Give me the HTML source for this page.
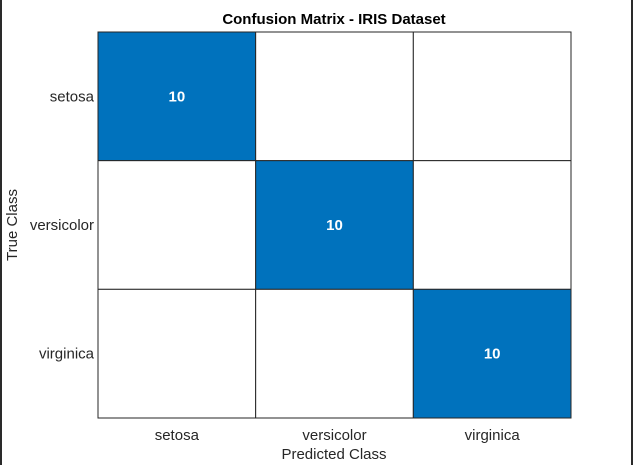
<!DOCTYPE html>
<html><head><meta charset="utf-8"><style>
html,body{margin:0;padding:0;background:#fff;}
body{width:633px;height:465px;overflow:hidden;position:relative;}
svg{position:absolute;left:0;top:0;font-family:"Liberation Sans",Arial,sans-serif;}
</style></head><body>
<svg id="chart" width="633" height="465" viewBox="0 0 633 465">
<rect x="0" y="0" width="2" height="465" fill="#2a2a2a"/>
<rect x="631" y="0" width="2" height="465" fill="#2a2a2a"/>
<text x="334" y="24" text-anchor="middle" font-size="15" font-weight="bold" fill="#000">Confusion Matrix - IRIS Dataset</text>
<g id="cells"></g>
<text x="334" y="459" text-anchor="middle" font-size="15" fill="#262626">Predicted Class</text>
<text transform="translate(17,225) rotate(-90)" text-anchor="middle" font-size="15" fill="#262626">True Class</text>
</svg>
<script>
const classes = ["setosa","versicolor","virginica"];
const row0 = [10,0,0];
const row1 = [0,10,0];
const row2 = [0,0,10];
const matrix = [row0,row1,row2];
const L=98,R=571,T=32,B=418;
const ns="http://www.w3.org/2000/svg";
const g=document.getElementById('cells');
const svg=document.getElementById('chart');
const n=classes.length, cw=(R-L)/n, ch=(B-T)/n;
function xs(i){return L+i*cw;}
function ys(i){return T+i*ch;}
const maxV=Math.max(...matrix.flat());
for(let r=0;r<n;r++){for(let c=0;c<n;c++){
  const v=matrix[r][c];
  const rect=document.createElementNS(ns,'rect');
  
  
  rect.setAttribute('x',xs(c));rect.setAttribute('y',ys(r));
  rect.setAttribute('width',cw);rect.setAttribute('height',ch);
  const t=maxV?v/maxV:0;
  const col=t>0?`rgb(${Math.round(255-255*t)},${Math.round(255-(255-114)*t)},${Math.round(255-(255-189)*t)})`:'#fff';
  rect.setAttribute('fill',col);rect.setAttribute('stroke','#262626');rect.setAttribute('stroke-width','1');
  g.appendChild(rect);
  if(v>0){
    const tx=document.createElementNS(ns,'text');
    
    
    tx.setAttribute('x',xs(c)+cw/2);tx.setAttribute('y',ys(r)+ch/2+5);
    tx.setAttribute('text-anchor','middle');tx.setAttribute('font-size','15');tx.setAttribute('font-weight','bold');
    tx.setAttribute('fill',t>0.5?'#fff':'#000');
    tx.textContent=v;g.appendChild(tx);
  }
}}
classes.forEach((name,i)=>{
  const xt=document.createElementNS(ns,'text');
  
  
  xt.setAttribute('x',xs(i)+cw/2);xt.setAttribute('y',B+22);
  xt.setAttribute('text-anchor','middle');xt.setAttribute('font-size','15');xt.setAttribute('fill','#262626');
  xt.textContent=name;svg.appendChild(xt);
  const yt=document.createElementNS(ns,'text');
  
  
  yt.setAttribute('x',L-4);yt.setAttribute('y',ys(i)+ch/2+5);
  yt.setAttribute('text-anchor','end');yt.setAttribute('font-size','15');yt.setAttribute('fill','#262626');
  yt.textContent=name;svg.appendChild(yt);
});
</script>
</body></html>
